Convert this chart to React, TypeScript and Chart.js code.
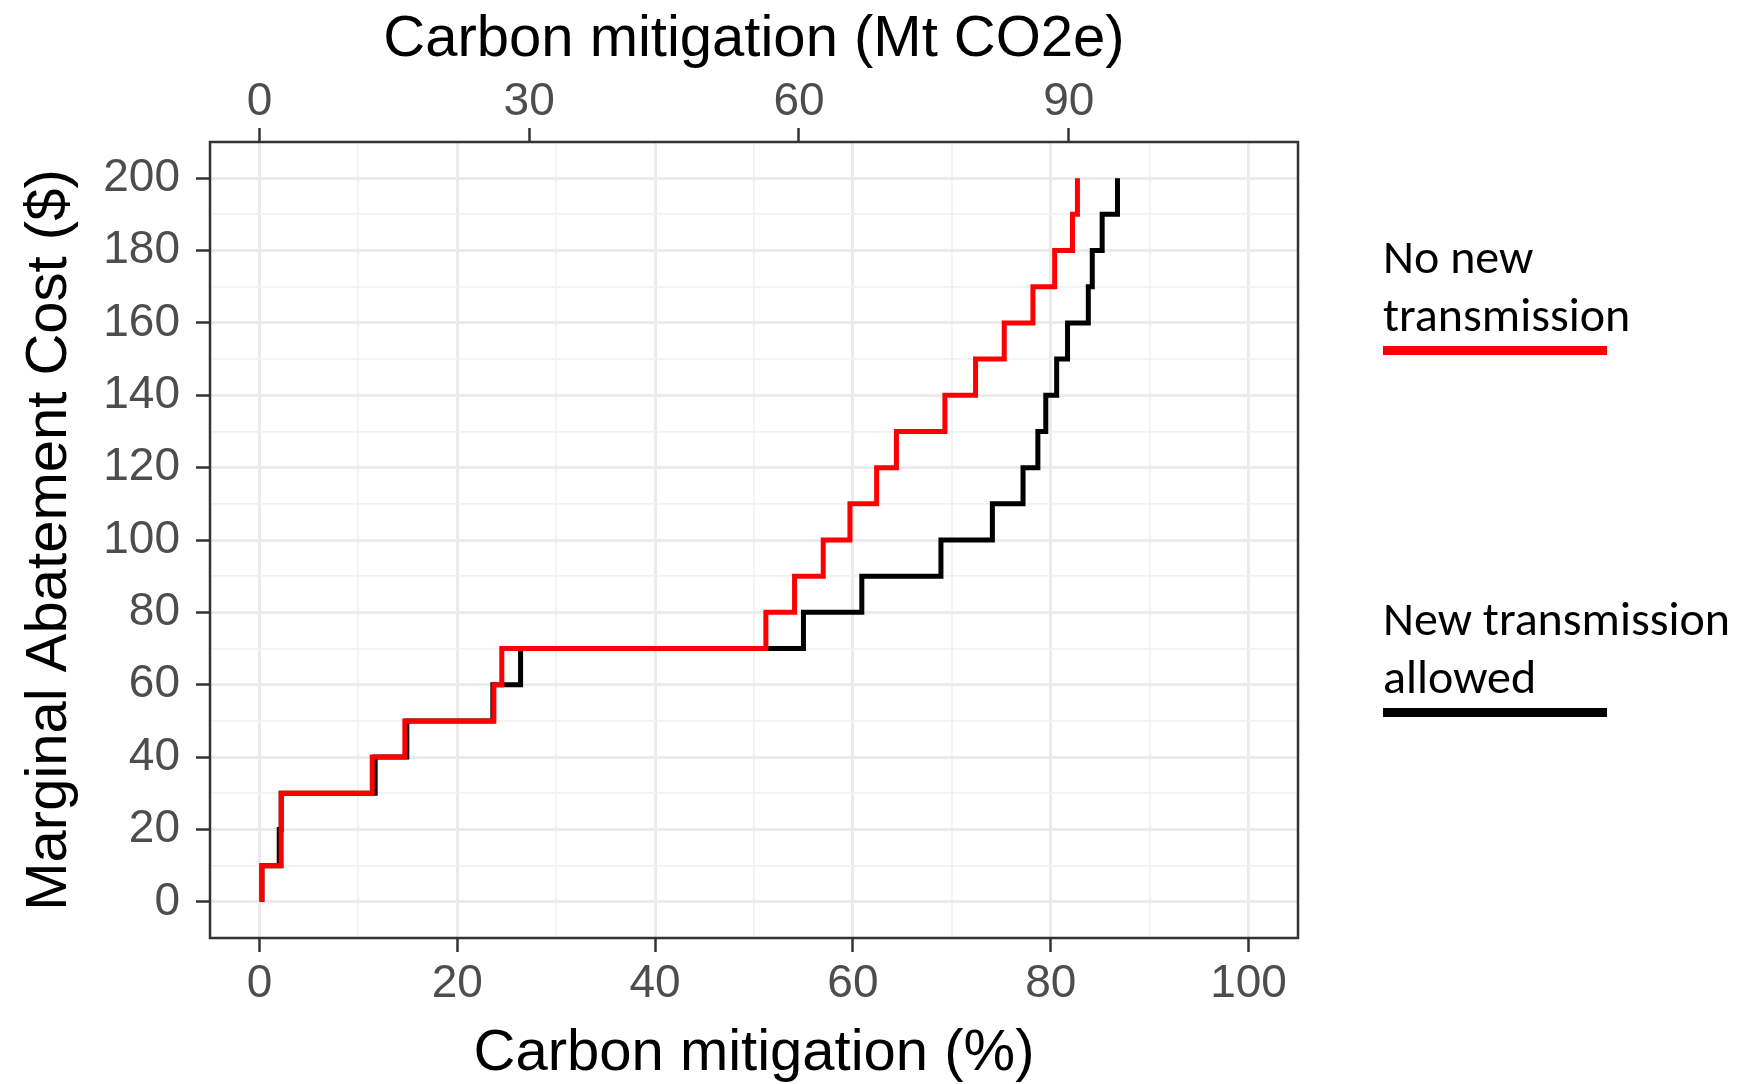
import { useEffect, useRef } from "react";
import { Chart, registerables } from "chart.js";

Chart.register(...registerables);

// Marginal abatement cost curves: cost level ($) and the cumulative
// mitigation (% of total) at which that cost level begins.
const costNoNew = [0, 10, 30, 40, 50, 60, 70, 80, 90, 100, 110, 120, 130, 140, 150, 160, 170, 180, 190, 200];
const mitigationNoNew = [0.25, 0.25, 2.2, 11.4, 14.7, 23.7, 24.5, 51.2, 54.1, 57.0, 59.7, 62.4, 64.4, 69.3, 72.4, 75.3, 78.2, 80.4, 82.2, 82.7];

const costNewAllowed = [0, 10, 20, 30, 40, 50, 60, 70, 80, 90, 100, 110, 120, 130, 140, 150, 160, 170, 180, 190, 200];
const mitigationNewAllowed = [0.25, 0.25, 2.0, 2.2, 11.7, 14.9, 23.6, 26.4, 55.0, 60.9, 68.9, 74.1, 77.2, 78.7, 79.5, 80.6, 81.7, 83.8, 84.2, 85.2, 86.75];

// Axis ticks (every other one labelled on the % and $ axes)
const percentTicks = [0, 10, 20, 30, 40, 50, 60, 70, 80, 90, 100];
const costTicks = [0, 10, 20, 30, 40, 50, 60, 70, 80, 90, 100, 110, 120, 130, 140, 150, 160, 170, 180, 190, 200];
const mtTicks = [0, 30, 60, 90];

// 100 % mitigation corresponds to 110 Mt CO2e
const MT_AT_100_PERCENT = 110;

const legendLines = [
  ["No new", "transmission"],
  ["New transmission", "allowed"],
];

const X_MIN = -5;
const X_MAX = 105;
const Y_MIN = -10;
const Y_MAX = 210;

const FONT = "'Liberation Sans', Arial, sans-serif";
const LEGEND_FONT = "Calibri, Carlito, Lato, 'Noto Sans', sans-serif";
const TICK_COLOR = "#4D4D4D";
const AXIS_COLOR = "#333333";
const GRID_MAJOR = "#EBEBEB";
const GRID_MINOR = "#F2F2F2";
const TICK_FONT_SIZE = 46;

const toPoints = (xs: number[], ys: number[]) => xs.map((x, i) => ({ x, y: ys[i] }));

const decorations = {
  id: "decorations",
  afterDraw(chart: any) {
    const { ctx, chartArea } = chart;
    const { left, right, top, bottom } = chartArea;
    ctx.save();

    // panel border
    ctx.strokeStyle = AXIS_COLOR;
    ctx.lineWidth = 2.5;
    ctx.strokeRect(left, top, right - left, bottom - top);

    // axis titles
    ctx.fillStyle = "#000000";
    ctx.font = `58px ${FONT}`;
    ctx.textAlign = "center";
    ctx.textBaseline = "alphabetic";
    const cx = (left + right) / 2;
    ctx.fillText("Carbon mitigation (Mt CO2e)", cx, 56);
    ctx.fillText("Carbon mitigation (%)", cx, 1070);
    ctx.save();
    ctx.translate(66, (top + bottom) / 2);
    ctx.rotate(-Math.PI / 2);
    ctx.fillText("Marginal Abatement Cost ($)", 0, 0);
    ctx.restore();

    // legend: label text with a coloured bar underneath
    const datasets = chart.data.datasets;
    const legendX = 1383;
    const blockTops = [273, 635];
    ctx.font = `48px ${LEGEND_FONT}`;
    ctx.textAlign = "left";
    datasets.forEach((ds: any, i: number) => {
      const lines = legendLines[i];
      const base = blockTops[i];
      lines.forEach((line: string, j: number) => {
        ctx.fillStyle = "#000000";
        ctx.fillText(line, legendX, base + j * 58);
      });
      ctx.fillStyle = ds.borderColor;
      ctx.fillRect(legendX, base + 73, 224, 9);
    });

    ctx.restore();
  },
};

export default function App() {
  const canvasRef = useRef<HTMLCanvasElement | null>(null);

  useEffect(() => {
    const canvas = canvasRef.current;
    if (!canvas) return;

    const majorGrid = (every: number) => (c: any) =>
      c.tick && c.tick.value % every === 0 ? GRID_MAJOR : GRID_MINOR;
    const gridWidth = (every: number) => (c: any) =>
      c.tick && c.tick.value % every === 0 ? 3 : 1.8;
    const tickMark = (every: number) => (c: any) =>
      c.tick && c.tick.value % every === 0 ? AXIS_COLOR : "rgba(0,0,0,0)";

    const chart = new Chart(canvas, {
      type: "line",
      data: {
        datasets: [
          {
            label: "No new transmission",
            data: toPoints(mitigationNoNew, costNoNew),
            borderColor: "#FF0000",
            borderWidth: 5,
            stepped: "before",
            pointRadius: 0,
            fill: false,
            order: 1,
            xAxisID: "x",
            yAxisID: "y",
          },
          {
            label: "New transmission allowed",
            data: toPoints(mitigationNewAllowed, costNewAllowed),
            borderColor: "#000000",
            borderWidth: 5,
            stepped: "before",
            pointRadius: 0,
            fill: false,
            order: 2,
            xAxisID: "x",
            yAxisID: "y",
          },
        ],
      },
      options: {
        responsive: false,
        animation: false,
        devicePixelRatio: 1,
        layout: { padding: { left: 0, right: 446, top: 0, bottom: 0 } },
        plugins: {
          legend: { display: false },
          tooltip: { enabled: false },
        },
        scales: {
          x: {
            type: "linear",
            position: "bottom",
            min: X_MIN,
            max: X_MAX,
            afterBuildTicks: (scale: any) => {
              scale.ticks = percentTicks.map((v) => ({ value: v }));
            },
            afterFit: (scale: any) => {
              scale.height = 146;
            },
            ticks: {
              autoSkip: false,
              maxRotation: 0,
              padding: 5,
              color: TICK_COLOR,
              font: { family: FONT, size: TICK_FONT_SIZE },
              callback: (v: any) => (Number(v) % 20 === 0 ? String(v) : ""),
            },
            grid: {
              color: majorGrid(20),
              lineWidth: gridWidth(20),
              tickColor: tickMark(20),
              tickWidth: 2.5,
              tickLength: 14,
            },
            border: { display: false },
          },
          x2: {
            type: "linear",
            position: "top",
            min: X_MIN * (MT_AT_100_PERCENT / 100),
            max: X_MAX * (MT_AT_100_PERCENT / 100),
            afterBuildTicks: (scale: any) => {
              scale.ticks = mtTicks.map((v) => ({ value: v }));
            },
            afterFit: (scale: any) => {
              scale.height = 142;
            },
            ticks: {
              autoSkip: false,
              maxRotation: 0,
              padding: -2,
              color: TICK_COLOR,
              font: { family: FONT, size: TICK_FONT_SIZE },
            },
            grid: {
              drawOnChartArea: false,
              tickColor: AXIS_COLOR,
              tickWidth: 2.5,
              tickLength: 14,
            },
            border: { display: false },
          },
          y: {
            type: "linear",
            position: "left",
            min: Y_MIN,
            max: Y_MAX,
            afterBuildTicks: (scale: any) => {
              scale.ticks = costTicks.map((v) => ({ value: v }));
            },
            afterFit: (scale: any) => {
              scale.width = 210;
            },
            ticks: {
              autoSkip: false,
              padding: 16,
              color: TICK_COLOR,
              font: { family: FONT, size: TICK_FONT_SIZE },
              callback: (v: any) => (Number(v) % 20 === 0 ? String(v) : ""),
            },
            grid: {
              color: majorGrid(20),
              lineWidth: gridWidth(20),
              tickColor: tickMark(20),
              tickWidth: 2.5,
              tickLength: 14,
            },
            border: { display: false },
          },
        },
      },
      plugins: [decorations],
    } as any);

    return () => chart.destroy();
  }, []);

  return (
    <div style={{ position: "absolute", left: 0, top: 0, width: 1744, height: 1084, background: "#ffffff" }}>
      <canvas ref={canvasRef} width={1744} height={1084} />
    </div>
  );
}
